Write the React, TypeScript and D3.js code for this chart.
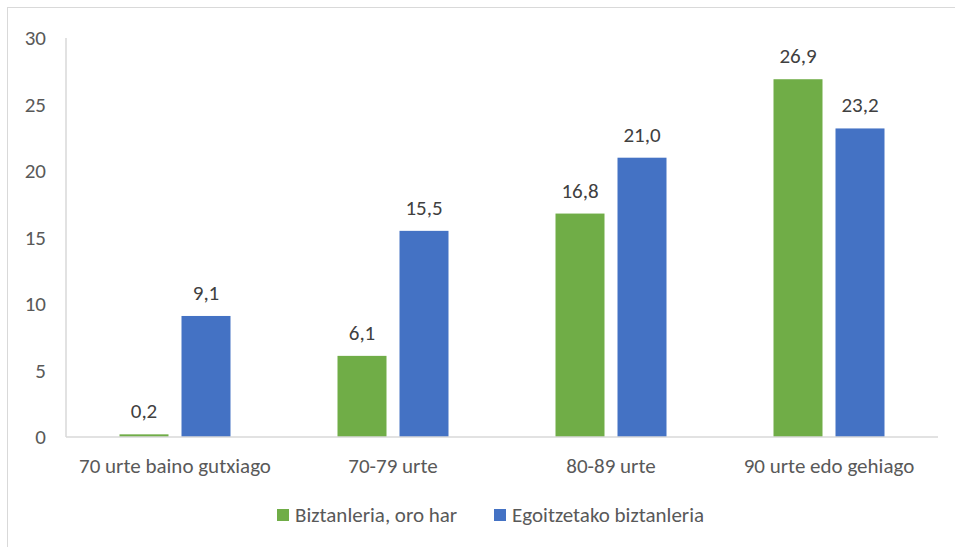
import React from "react";
import * as d3 from "d3";

const categories = ["70 urte baino gutxiago", "70-79 urte", "80-89 urte", "90 urte edo gehiago"];
const seriesNames = ["Biztanleria, oro har", "Egoitzetako biztanleria"];
const generalPopulation = [0.2, 6.1, 16.8, 26.9];
const residentialPopulation = [9.1, 15.5, 21.0, 23.2];
const yTicks = [0, 5, 10, 15, 20, 25, 30];
const colors = ["#70AD47", "#4472C4"];

const W = 955;
const H = 547;
const FONT = "Carlito, Calibri, 'Open Sans', sans-serif";
const FS = 21;

export default function App() {
  const plotLeft = 66;
  const plotRight = 938;
  const plotTop = 38;
  const plotBottom = 437;

  const y = d3.scaleLinear().domain([0, 30]).range([plotBottom, plotTop]);
  const x0 = d3.scaleBand<string>().domain(categories).range([plotLeft, plotRight]);
  const groupWidth = 111;
  const x1 = d3
    .scaleBand<string>()
    .domain(seriesNames)
    .range([0, groupWidth])
    .paddingInner(13 / 62);

  const values = [generalPopulation, residentialPopulation];
  const fmt = (v: number) => v.toFixed(1).replace(".", ",");

  const legendItems = [
    { name: seriesNames[0], x: 277 },
    { name: seriesNames[1], x: 494 },
  ];

  return (
    <svg
      width={W}
      height={H}
      style={{ position: "absolute", left: 0, top: 0, background: "#fff" }}
      fontFamily={FONT}
    >
      <rect x={7.5} y={7.5} width={W + 20} height={H + 20} fill="#fff" stroke="#D9D9D9" />

      {/* y axis labels */}
      {yTicks.map((t) => (
        <text key={t} x={46} y={y(t)} dy="0.35em" textAnchor="end" fontSize={FS} fill="#595959">
          {t}
        </text>
      ))}

      {/* axis lines */}
      <line x1={plotLeft} x2={plotLeft} y1={plotTop} y2={plotBottom} stroke="#D9D9D9" strokeWidth={1.5} />

      {/* bars */}
      {categories.map((c, ci) => {
        const gx = x0(c)! + (x0.bandwidth() - groupWidth) / 2;
        return (
          <g key={c} transform={`translate(${gx},0)`}>
            {seriesNames.map((s, si) => {
              const v = values[si][ci];
              const bx = x1(s)!;
              return (
                <g key={s}>
                  <rect
                    x={bx}
                    y={y(v)}
                    width={x1.bandwidth()}
                    height={y(0) - y(v)}
                    fill={colors[si]}
                  />
                  <text
                    x={bx + x1.bandwidth() / 2}
                    y={y(v) - 16}
                    textAnchor="middle"
                    fontSize={FS}
                    fill="#404040"
                  >
                    {fmt(v)}
                  </text>
                </g>
              );
            })}
          </g>
        );
      })}

      <line x1={plotLeft} x2={plotRight} y1={plotBottom} y2={plotBottom} stroke="#D9D9D9" strokeWidth={1.5} />

      {/* x axis labels */}
      {categories.map((c) => (
        <text
          key={c}
          x={x0(c)! + x0.bandwidth() / 2}
          y={466}
          dy="0.35em"
          textAnchor="middle"
          fontSize={FS}
          fill="#595959"
        >
          {c}
        </text>
      ))}

      {/* legend */}
      {legendItems.map((l, i) => (
        <g key={l.name}>
          <rect x={l.x} y={509} width={12} height={12} fill={colors[i]} />
          <text x={l.x + 18} y={515} dy="0.35em" fontSize={FS} fill="#595959">
            {l.name}
          </text>
        </g>
      ))}
    </svg>
  );
}
